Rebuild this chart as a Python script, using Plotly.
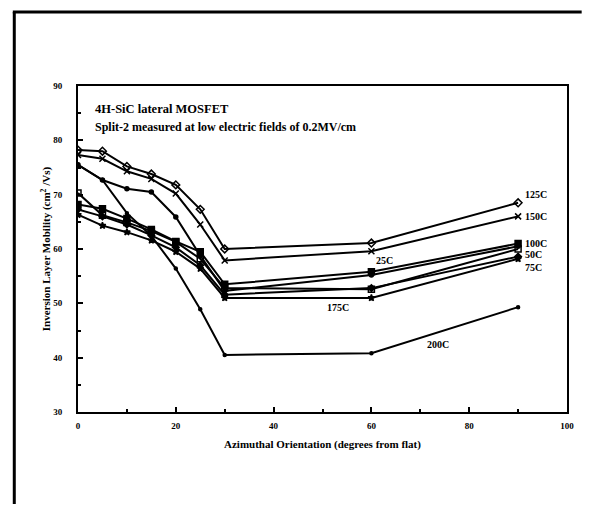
import plotly.graph_objects as go

angles = [0, 5, 10, 15, 20, 25, 30, 60, 90]

mob_125C = [78.2, 78.0, 75.2, 73.8, 71.8, 67.3, 60.0, 61.1, 68.5]
mob_150C = [77.3, 76.6, 74.3, 72.9, 70.2, 64.5, 57.9, 59.6, 66.0]
mob_25C = [75.5, 72.7, 71.1, 70.5, 65.9, 58.8, 52.3, 55.2, 60.5]
mob_100C = [68.2, 67.4, 65.6, 63.6, 61.4, 59.5, 53.5, 55.8, 61.0]
mob_50C = [70.3, 66.2, 64.9, 63.3, 61.3, 58.2, 52.8, 52.6, 60.0]
mob_75C = [67.3, 66.0, 64.5, 62.5, 60.3, 57.0, 51.6, 52.8, 58.6]
mob_175C = [66.3, 64.3, 63.1, 61.6, 59.5, 56.4, 51.0, 51.0, 58.2]
mob_200C = [75.5, 72.7, 66.6, 62.4, 56.4, 48.9, 40.5, 40.8, 49.3]

series = [
    ("125C", mob_125C, "diamond-open", 6),
    ("150C", mob_150C, "x-thin-open", 6),
    ("25C", mob_25C, "circle", 4),
    ("100C", mob_100C, "square", 6),
    ("50C", mob_50C, "square-open", 6),
    ("75C", mob_75C, "diamond", 5),
    ("175C", mob_175C, "star", 5),
    ("200C", mob_200C, "circle", 3),
]

label_names = ["125C", "150C", "100C", "50C", "75C", "25C", "175C", "200C"]
label_x = [91, 91, 91, 91, 91, 60.5, 50.5, 71]
label_y = [70.0, 66.0, 61.1, 59.0, 56.6, 57.9, 49.2, 42.5]

serif = "Liberation Serif"

fig = go.Figure()
for name, vals, sym, sz in series:
    fig.add_trace(go.Scatter(
        x=angles, y=vals, mode="lines+markers", name=name,
        line=dict(color="black", width=2),
        marker=dict(symbol=sym, size=sz, color="black",
                    line=dict(color="black", width=1.5)),
        showlegend=False,
    ))

for t, x, y in zip(label_names, label_x, label_y):
    fig.add_annotation(x=x, y=y, text=t, showarrow=False, xanchor="left",
                       font=dict(family=serif, size=10, color="black", weight="bold"))

fig.add_annotation(xref="paper", yref="paper", x=0.03, y=0.93, text="4H-SiC lateral MOSFET",
                   showarrow=False, xanchor="left", yanchor="middle",
                   font=dict(family=serif, size=12.5, color="black", weight="bold"))
fig.add_annotation(xref="paper", yref="paper", x=0.03, y=0.875,
                   text="Split-2 measured at low electric fields of 0.2MV/cm",
                   showarrow=False, xanchor="left", yanchor="middle",
                   font=dict(family=serif, size=12, color="black", weight="bold"))
# x axis title
fig.add_annotation(xref="paper", yref="paper", x=0.5, y=-0.101,
                   text="Azimuthal Orientation (degrees from flat)",
                   showarrow=False, xanchor="center", yanchor="middle",
                   font=dict(family=serif, size=11, color="black", weight="bold"))

# outer frame (left and top borders of the scanned page)
fig.add_shape(type="line", xref="paper", yref="paper", x0=-0.1303, y0=-0.35, x1=-0.1303, y1=1.227,
              line=dict(color="black", width=3))
fig.add_shape(type="line", xref="paper", yref="paper", x0=-0.1333, y0=1.227, x1=1.03, y1=1.227,
              line=dict(color="black", width=3))

tickfont = dict(family=serif, size=9, color="black", weight="bold")
fig.update_xaxes(range=[0, 100], tickvals=[0, 20, 40, 60, 80, 100],
                 ticks="inside", ticklen=5, tickwidth=1.5, tickcolor="black",
                 minor=dict(tickvals=[10, 30, 50, 70, 90], ticks="inside", ticklen=3, tickcolor="black"),
                 showline=True, linecolor="black", linewidth=2, mirror=True,
                 showgrid=False, zeroline=False, tickfont=tickfont, ticklabelstandoff=4)
fig.update_yaxes(range=[30, 90], tickvals=[30, 40, 50, 60, 70, 80, 90],
                 ticks="inside", ticklen=5, tickwidth=1.5, tickcolor="black",
                 minor=dict(tickvals=[35, 45, 55, 65, 75, 85], ticks="inside", ticklen=3, tickcolor="black"),
                 showline=True, linecolor="black", linewidth=2, mirror=True,
                 showgrid=False, zeroline=False, tickfont=tickfont, ticklabelstandoff=12,
                 title=dict(text="Inversion Layer Mobility (cm<sup>2</sup> /Vs)",
                            font=dict(family=serif, size=11, color="black", weight="bold"), standoff=0))

fig.update_layout(width=574, height=496, plot_bgcolor="white", paper_bgcolor="white",
                  margin=dict(l=70, r=8, t=78, b=92))

fig.write_html("out.html", config={"displayModeBar": False})
